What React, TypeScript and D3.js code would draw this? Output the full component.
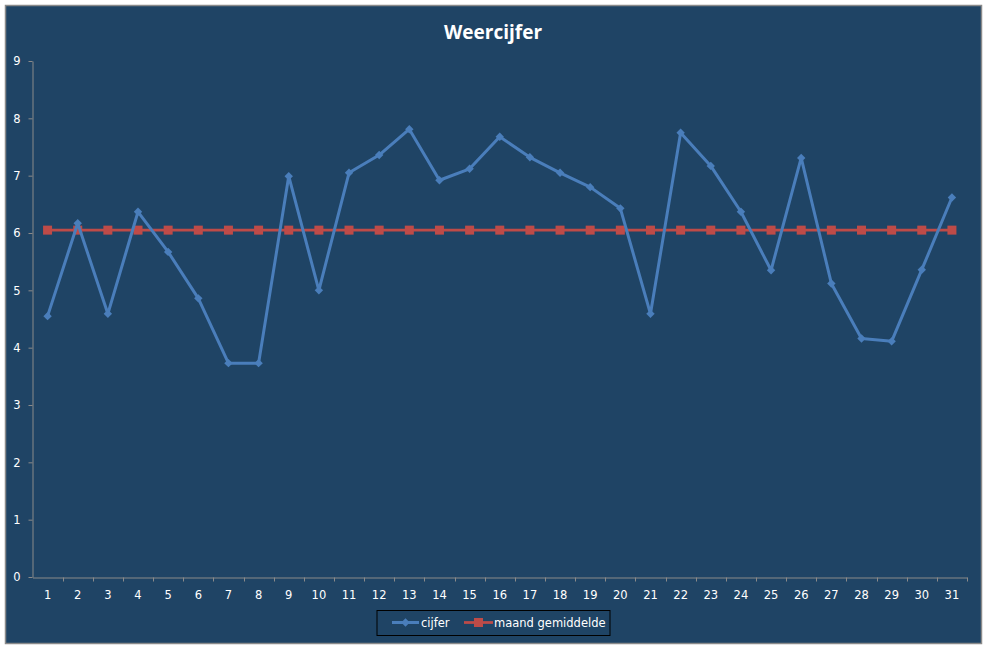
import React, { useEffect, useRef } from "react";
import * as d3 from "d3";

const days = d3.range(1, 32).map(String);
const cijfer = [
  4.55, 6.17, 4.59, 6.37, 5.67, 4.86, 3.73, 3.73, 6.99, 5.0, 7.05, 7.36, 7.81,
  6.92, 7.12, 7.68, 7.32, 7.05, 6.8, 6.43, 4.59, 7.75, 7.17, 6.37, 5.35, 7.31,
  5.12, 4.16, 4.11, 5.36, 6.62,
];
const gemiddelde = [
  6.05, 6.05, 6.05, 6.05, 6.05, 6.05, 6.05, 6.05, 6.05, 6.05, 6.05, 6.05, 6.05,
  6.05, 6.05, 6.05, 6.05, 6.05, 6.05, 6.05, 6.05, 6.05, 6.05, 6.05, 6.05, 6.05,
  6.05, 6.05, 6.05, 6.05, 6.05,
];
const yTicks = [0, 1, 2, 3, 4, 5, 6, 7, 8, 9];

const W = 987;
const H = 648;
const BG = "#1f4465";
const BLUE = "#4a7ebb";
const RED = "#be4b48";
const AXIS = "#8a8a8a";
const FONT = "'DejaVu Sans', sans-serif";

const App: React.FC = () => {
  const svgRef = useRef<SVGSVGElement>(null);

  useEffect(() => {
    const svg = d3.select(svgRef.current);
    svg.selectAll("*").remove();

    svg
      .append("rect")
      .attr("x", 5.5)
      .attr("y", 5.5)
      .attr("width", 976)
      .attr("height", 638)
      .attr("fill", BG)
      .attr("stroke", AXIS)
      .attr("stroke-width", 1.5);

    svg
      .append("text")
      .attr("x", 493)
      .attr("y", 39)
      .attr("text-anchor", "middle")
      .attr("fill", "#ffffff")
      .attr("font-family", "'Open Sans', sans-serif")
      .attr("font-weight", "bold")
      .attr("font-size", 19)
      .text("Weercijfer");

    const x = d3.scaleBand().domain(days).range([32.5, 967]).padding(0);
    const y = d3.scaleLinear().domain([0, 9]).range([577, 61]);
    const cx = (d: string) => (x(d) as number) + x.bandwidth() / 2;

    // y axis
    const yAxis = svg
      .append("g")
      .attr("transform", "translate(32.5,0)")
      .call(d3.axisLeft(y).tickValues(yTicks).tickSize(4).tickSizeOuter(0).tickPadding(8));
    yAxis.select(".domain").attr("stroke", AXIS);
    yAxis.selectAll(".tick line").attr("stroke", AXIS);
    yAxis
      .selectAll(".tick text")
      .attr("fill", "#ffffff")
      .attr("font-family", FONT)
      .attr("font-size", 11.5);

    // x axis
    const xAxis = svg
      .append("g")
      .attr("transform", "translate(0,577.5)")
      .call(d3.axisBottom(x).tickSize(0).tickSizeOuter(0).tickPadding(13));
    xAxis.select(".domain").attr("stroke", AXIS);
    xAxis
      .selectAll(".tick text")
      .attr("fill", "#ffffff")
      .attr("font-family", FONT)
      .attr("font-size", 11.5);
    const bounds = days.map((d) => x(d) as number).concat([x.range()[1]]);
    xAxis
      .selectAll(".bound")
      .data(bounds.slice(1))
      .join("line")
      .attr("class", "bound")
      .attr("x1", (d) => Math.round(d) + 0.5)
      .attr("x2", (d) => Math.round(d) + 0.5)
      .attr("y1", 0)
      .attr("y2", 4)
      .attr("stroke", AXIS);

    const line = d3
      .line<number>()
      .x((_, i) => cx(days[i]))
      .y((d) => y(d));

    // average series
    svg
      .append("path")
      .datum(gemiddelde)
      .attr("d", line)
      .attr("fill", "none")
      .attr("stroke", RED)
      .attr("stroke-width", 2.75);
    svg
      .selectAll(".sq")
      .data(gemiddelde)
      .join("rect")
      .attr("class", "sq")
      .attr("x", (_, i) => cx(days[i]) - 4.5)
      .attr("y", (d) => y(d) - 4.5)
      .attr("width", 9)
      .attr("height", 9)
      .attr("fill", RED);

    // cijfer series
    svg
      .append("path")
      .datum(cijfer)
      .attr("d", line)
      .attr("fill", "none")
      .attr("stroke", BLUE)
      .attr("stroke-width", 3)
      .attr("stroke-linejoin", "round");
    svg
      .selectAll(".dm")
      .data(cijfer)
      .join("path")
      .attr("class", "dm")
      .attr("d", d3.symbol(d3.symbolDiamond2, 45))
      .attr("transform", (d, i) => `translate(${cx(days[i])},${y(d)})`)
      .attr("fill", BLUE);

    // legend
    const lg = svg.append("g").attr("transform", "translate(377,610.5)");
    lg.append("rect")
      .attr("width", 233)
      .attr("height", 25)
      .attr("fill", BG)
      .attr("stroke", "#000000")
      .attr("stroke-width", 1);
    lg.append("line")
      .attr("x1", 15)
      .attr("x2", 42)
      .attr("y1", 12)
      .attr("y2", 12)
      .attr("stroke", BLUE)
      .attr("stroke-width", 3);
    lg.append("path")
      .attr("d", d3.symbol(d3.symbolDiamond2, 45))
      .attr("transform", "translate(28.5,12)")
      .attr("fill", BLUE);
    lg.append("text")
      .attr("x", 44)
      .attr("y", 16)
      .attr("fill", "#ffffff")
      .attr("font-family", FONT)
      .attr("font-size", 11.5)
      .text("cijfer");
    lg.append("line")
      .attr("x1", 87)
      .attr("x2", 116)
      .attr("y1", 12)
      .attr("y2", 12)
      .attr("stroke", RED)
      .attr("stroke-width", 2.75);
    lg.append("rect")
      .attr("x", 97)
      .attr("y", 7.5)
      .attr("width", 9)
      .attr("height", 9)
      .attr("fill", RED);
    lg.append("text")
      .attr("x", 117)
      .attr("y", 16)
      .attr("fill", "#ffffff")
      .attr("font-family", FONT)
      .attr("font-size", 11.5)
      .text("maand gemiddelde");
  }, []);

  return (
    <div style={{ position: "absolute", left: 0, top: 0 }}>
      <svg ref={svgRef} width={W} height={H} style={{ display: "block", background: "#ffffff" }} />
    </div>
  );
};

export default App;
